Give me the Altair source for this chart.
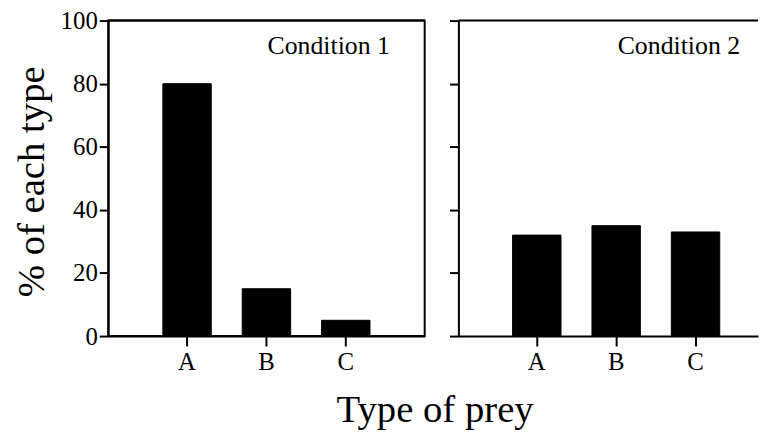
import altair as alt
import pandas as pd

categories = ["A", "B", "C"]
cond1_values = [80, 15, 5]
cond2_values = [32, 35, 33]
panel_labels = ["Condition 1", "Condition 2"]
y_ticks = [0, 20, 40, 60, 80, 100]
x_title = "Type of prey"
y_title = "% of each type"

FONT = "Liberation Serif"
W1, W2, H = 319, 302, 318

df1 = pd.DataFrame({"prey": categories, "pct": cond1_values})
df2 = pd.DataFrame({"prey": categories, "pct": cond2_values})


def panel(df, label, width, align, show_labels):
    xscale = alt.Scale(domain=categories, paddingInner=0.39,
                       paddingOuter=(width / 80 - 2.61) / 2, align=align)
    yscale = alt.Scale(domain=[0, 100], nice=False, zero=True)
    yaxis = alt.Axis(values=y_ticks, labels=show_labels, grid=False,
                     tickSize=9, tickWidth=2, tickColor="black",
                     domainColor="black", domainWidth=2,
                     labelFont=FONT, labelFontSize=25, labelColor="black",
                     labelPadding=2,
                     title=y_title if show_labels else None,
                     titleFont=FONT, titleFontSize=39, titleFontWeight="normal",
                     titleColor="black", titlePadding=9, titleY=162)
    xaxis = alt.Axis(title=None, grid=False, tickSize=10, tickWidth=2,
                     tickColor="black", domainColor="black", domainWidth=2,
                     labelFont=FONT, labelFontSize=25, labelColor="black",
                     labelPadding=4, labelAngle=0)
    bars = alt.Chart(df).mark_bar(color="black", stroke="black").encode(
        x=alt.X("prey:N", scale=xscale, axis=xaxis, sort=categories),
        y=alt.Y("pct:Q", scale=yscale, axis=yaxis),
    )
    text = alt.Chart(pd.DataFrame({"t": [label]})).mark_text(
        align="right", baseline="alphabetic", font=FONT, fontSize=26,
        color="black"
    ).encode(text="t:N", x=alt.value(284), y=alt.value(34))
    top = alt.Chart(pd.DataFrame({"t": [label]})).mark_rule(
        color="black", strokeWidth=2
    ).encode(x=alt.value(0), x2=alt.value(width), y=alt.value(0))
    return alt.layer(bars, text, top).properties(width=width, height=H)


left = panel(df1, panel_labels[0], W1, 0.5, True).properties(
    view=alt.ViewBackground(stroke="black", strokeWidth=2))
right = panel(df2, panel_labels[1], W2, 0.586, False).properties(
    view=alt.ViewBackground(stroke="transparent"))

chart = alt.hconcat(left, right, spacing=21).properties(
    padding={"top": -2, "left": 3, "right": 0, "bottom": 0},
    title=alt.TitleParams(text=x_title, orient="bottom", anchor="middle",
                          dx=50, offset=16, font=FONT, fontSize=39,
                          fontWeight="normal", color="black"),
).configure(background="white", font=FONT).configure_axis(
    titleFont=FONT, labelFont=FONT
)

chart.save("out.html", embed_options={"renderer": "svg", "actions": False})
